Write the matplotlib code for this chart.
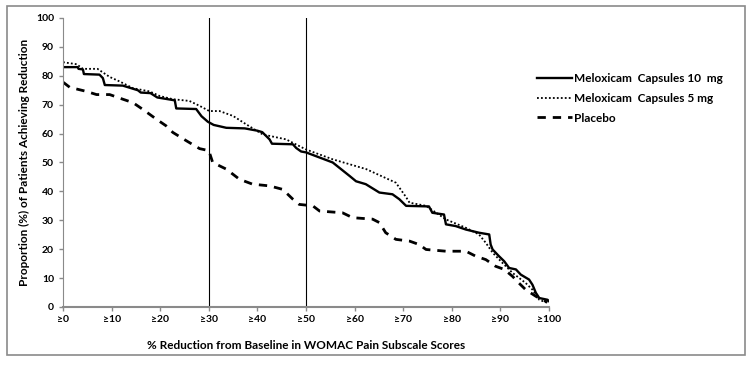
import matplotlib
matplotlib.use("Agg")
from matplotlib import pyplot as plt
from matplotlib.patches import Rectangle

# Values (% reduction, % of patients)
x_10mg = [0, 3, 3.2, 4.1, 4.3, 7.5, 8.2, 8.6, 12.3, 15.4, 16, 18, 19.4, 23, 23.3, 27.4,
          28.5, 29.8, 31, 33.6, 37.4, 40, 41, 42.5, 43, 47.3, 48, 49, 50, 55.5, 59,
          60.3, 62.3, 65.1, 67.8, 69.2, 70.6, 75.3, 76, 78.4, 78.8, 80.8, 82.9, 85.6,
          87.7, 88, 88.4, 89.7, 90.8, 91.8, 93.2, 94.2, 95.9, 96.6, 97.3, 98, 99.7, 100]
y_10mg = [83, 83, 82.4, 82.2, 80.6, 80.4, 79.2, 76.8, 76.6, 75, 74.2, 74, 72.5, 71.5, 68.7, 68.5,
          66, 64.1, 63, 62, 61.8, 61, 60.5, 58, 56.5, 56.3, 55, 53.8, 53.5, 50, 45.3,
          43.5, 42.5, 39.6, 39, 37.3, 35, 34.8, 32.6, 32, 28.6, 28, 26.8, 25.7,
          25.1, 21.6, 19.9, 17.6, 15.8, 13.5, 13, 11.2, 9.5, 7.7, 4.9, 3.1, 2.5, 2]

x_5mg = [0, 2.8, 4.1, 7.1, 9.6, 11.7, 14.4, 17.8, 19.9, 22.6, 26, 28.1, 30.1, 32.2, 35,
         37.7, 41.1, 45.9, 50, 55.5, 62.4, 68.5, 70.6, 71.3, 74.7, 78.8, 82.9, 85.6, 87,
         88.4, 90.4, 92.5, 95.2, 96.6, 98, 99.7]
y_5mg = [84.7, 84, 82.4, 82.4, 79.6, 78, 75.7, 74.6, 73, 71.9, 71.3, 69.6, 67.8, 67.8, 66.1,
         63.2, 59.7, 58, 54.5, 51.1, 47.7, 43, 38, 36.1, 35, 30.3, 27.4, 25.1, 22.2,
         18.8, 15.3, 11.8, 8.3, 6, 2.5, 1.4]

x_placebo = [0, 1.4, 4.8, 6.9, 9.6, 12.3, 14.4, 16.4, 19.2, 21.2, 22.6, 25.4, 28.1, 30,
             30.8, 33.6, 36.3, 39, 42.5, 45.2, 47.3, 48.6, 51.4, 52.8, 57.5, 59.6, 63.7,
             65.1, 66.4, 68.5, 71.3, 73.3, 74.7, 78.8, 82.9, 84.9, 87, 89, 90.8, 92.5,
             93.8, 95.2, 97.3, 98.6, 99.7]
y_placebo = [77.8, 76, 74.6, 73.5, 73.5, 71.9, 70.7, 68.4, 65, 62.7, 60.4, 57.5, 54.8, 54.1,
             50, 47.7, 44.2, 42.5, 41.9, 40.7, 37.3, 35.5, 35, 33.2, 32.6, 30.9, 30.4,
             29.2, 25.7, 23.4, 22.8, 21.6, 19.9, 19.3, 19.3, 17.6, 16.4, 14.1, 13, 10.6,
             8.3, 6, 3.7, 2.5, 1.7]

xticks = list(range(0, 101, 10))
xlabels = ["\u2265" + str(t) for t in xticks]
yticks = list(range(0, 101, 10))
cutoffs = [30, 50]

plt.rcParams['font.family'] = ['Lato', 'DejaVu Sans']

fig = plt.figure(figsize=(7.51, 3.67), dpi=100)
ax = fig.add_axes([0.0839, 0.1635, 0.731 - 0.0839, 0.951 - 0.1635])

# outer frame around whole chart
fig.patches.append(Rectangle((7 / 751, 1 - 355 / 367), 738 / 751, 349 / 367,
                             transform=fig.transFigure, fill=False,
                             edgecolor='#8a8a8a', lw=1.2))

for c in cutoffs:
    ax.plot([c, c], [0, 100], color='black', lw=0.8, zorder=1)

ax.plot(x_10mg, y_10mg, color='black', lw=1.7, label='Meloxicam  Capsules 10  mg')
ax.plot(x_5mg, y_5mg, color='black', lw=1.3, linestyle=(0, (1, 1.2)),
        label='Meloxicam  Capsules 5 mg')
ax.plot(x_placebo, y_placebo, color='black', lw=2.0, linestyle=(0, (3, 2.5)),
        label='Placebo')

ax.set_xlim(0, 100)
ax.set_ylim(0, 100)
ax.set_xticks(xticks)
ax.set_xticklabels(xlabels)
ax.set_yticks(yticks)
ax.tick_params(axis='both', labelsize=7.5, color='#8a8a8a', length=3, width=1)
ax.tick_params(axis='x', pad=3)
for lab in ax.get_xticklabels() + ax.get_yticklabels():
    lab.set_fontweight('bold')

for s in ['top', 'right']:
    ax.spines[s].set_visible(False)
ax.spines['left'].set_color('#8a8a8a')
ax.spines['bottom'].set_color('#8a8a8a')
ax.spines['bottom'].set_linewidth(1.5)

ax.set_xlabel('% Reduction from Baseline in WOMAC Pain Subscale Scores',
              fontsize=8.5, fontweight='bold', labelpad=11)
ax.set_ylabel('Proportion (%) of Patients Achieving Reduction',
              fontsize=8.5, fontweight='bold', labelpad=4)

leg = ax.legend(loc='upper left', bbox_to_anchor=(0.975, 0.81), frameon=False,
                prop={'size': 8.5, 'weight': 'bold'}, handlelength=3.0,
                handletextpad=0.15, labelspacing=0.75, borderpad=0,
                borderaxespad=0)

fig.savefig('out.png', dpi=100)
